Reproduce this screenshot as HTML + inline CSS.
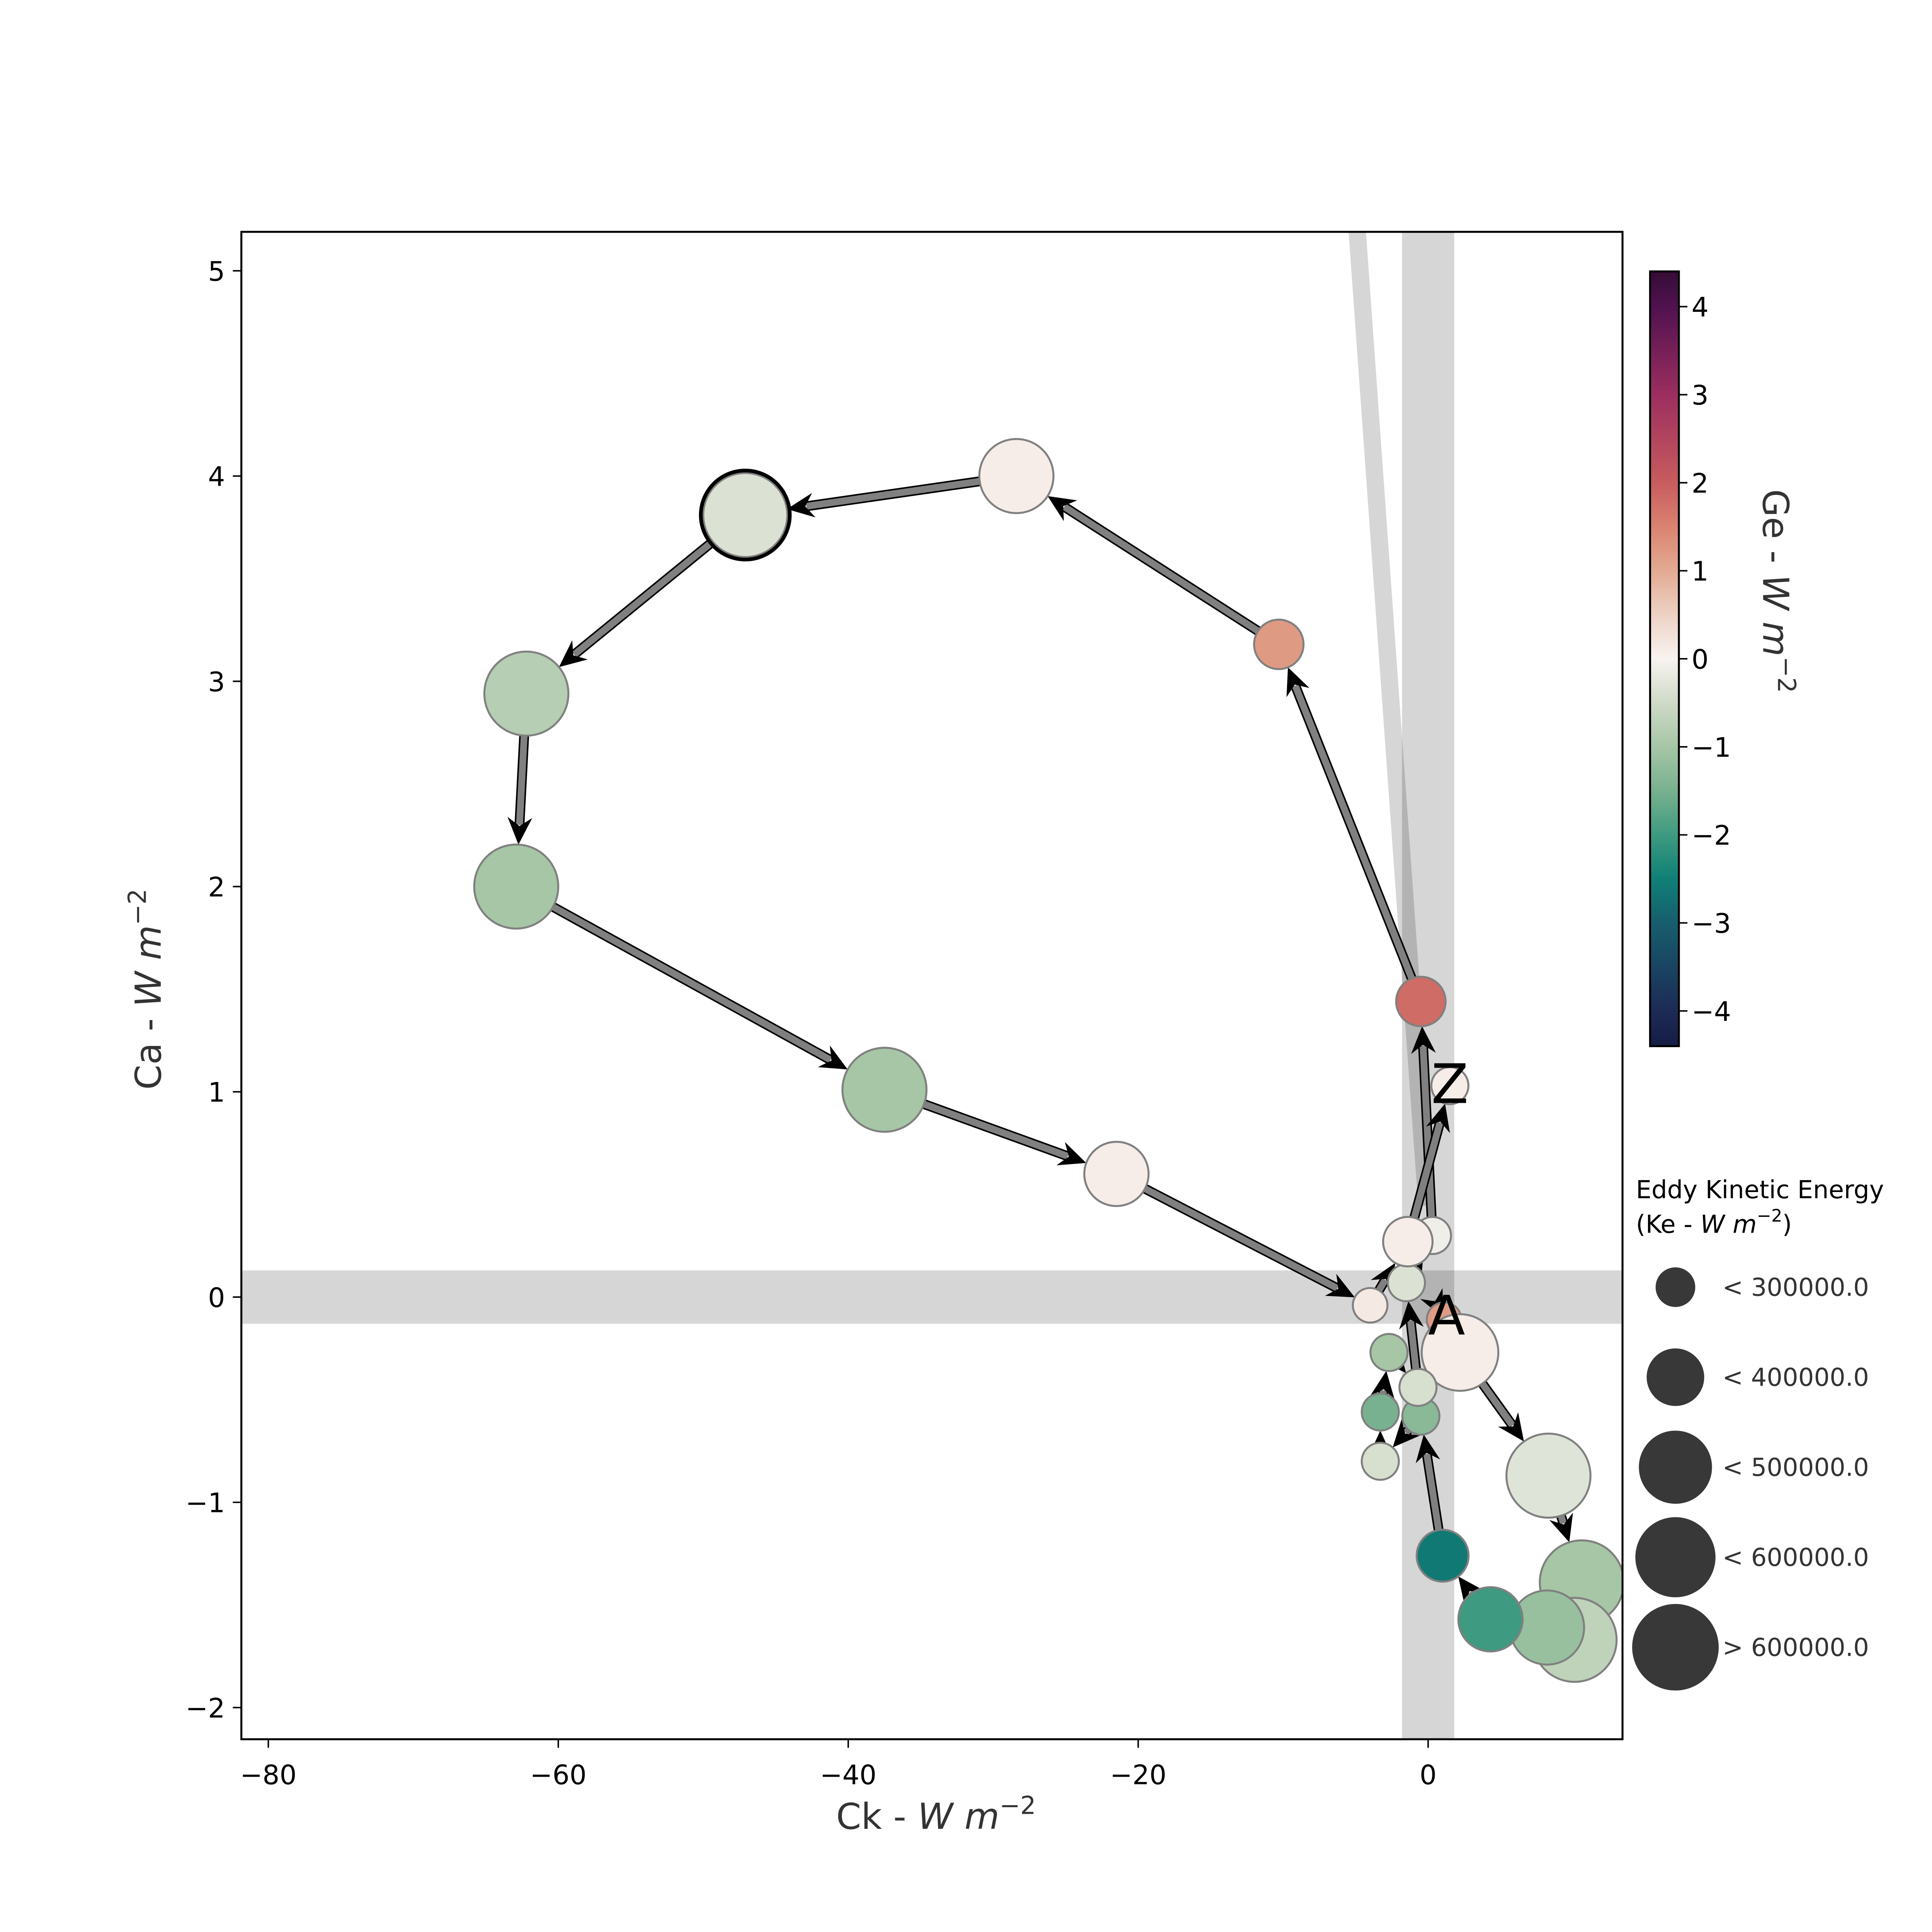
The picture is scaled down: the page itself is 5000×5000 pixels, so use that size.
<!DOCTYPE html>
<html><head><meta charset="utf-8">
<style>html,body{margin:0;padding:0;background:#fff}svg{display:block}</style>
</head><body>
<svg id="chart" xmlns="http://www.w3.org/2000/svg" width="5000" height="5000" viewBox="0 0 1562.5 1562.5" font-family="DejaVu Sans, Liberation Sans, sans-serif">
<defs>
<linearGradient id="cbgrad" x1="0" y1="1" x2="0" y2="0"></linearGradient>
<clipPath id="plotclip"><rect x="195.2" y="187.5" width="1117" height="1219.1"/></clipPath>
</defs>
<rect width="1562.5" height="1562.5" fill="#fff"/>
<g id="bands" clip-path="url(#plotclip)"></g>
<g id="arrows" clip-path="url(#plotclip)"></g>
<g id="points" clip-path="url(#plotclip)"></g>
<g id="labels"></g>
<rect x="195.2" y="187.5" width="1117" height="1219.1" fill="none" stroke="#000" stroke-width="1.6"/>
<g id="xaxis"></g>
<g id="yaxis"></g>
<text x="757" y="1479" font-size="29" fill="#333" text-anchor="middle">Ck - <tspan font-style="italic">W m</tspan><tspan font-size="20" dy="-12">−2</tspan></text>
<text transform="translate(130,800) rotate(-90)" font-size="29" fill="#333" text-anchor="middle">Ca - <tspan font-style="italic">W m</tspan><tspan font-size="20" dy="-12">−2</tspan></text>
<g id="colorbar"></g>
<text transform="translate(1426,478) rotate(90)" font-size="29" fill="#333" text-anchor="middle">Ge - <tspan font-style="italic">W m</tspan><tspan font-size="20" dy="-12">−2</tspan></text>
<g id="legend">
<text x="1323" y="969" font-size="20" fill="#000">Eddy Kinetic Energy</text>
<text x="1323" y="997" font-size="20" fill="#000">(Ke - <tspan font-style="italic">W m</tspan><tspan font-size="14" dy="-9">−2</tspan><tspan dy="9">)</tspan></text>
</g>
</svg>
<script>
// ---- data ----
const ckValues = [1.1, 2.2, 8.3, 10.6, 10.1, 8.2, 4.3, 1.0, -0.5, -3.3, -3.3, -2.7, -0.7, -1.5, 0.3, -0.5, -10.3, -28.4, -47.1, -62.2, -62.9, -37.5, -21.5, -4.0, -1.4, 1.5];
const caValues = [-0.11, -0.27, -0.87, -1.39, -1.67, -1.61, -1.57, -1.26, -0.58, -0.8, -0.56, -0.27, -0.44, 0.07, 0.30, 1.44, 3.18, 4.0, 3.81, 2.94, 2.0, 1.01, 0.6, -0.04, 0.27, 1.03];
const geValues = [1.2, 0.1, -0.3, -1.0, -0.7, -1.15, -2.0, -2.6, -1.3, -0.4, -1.5, -1.0, -0.4, -0.35, -0.1, 1.8, 1.2, 0.1, -0.35, -0.8, -1.0, -1.0, 0.1, 0.15, 0.1, 0.1];
const keValues = [112000, 549000, 660000, 660000, 660000, 514000, 386000, 252000, 128600, 128600, 128600, 128600, 128600, 128600, 128600, 228600, 228600, 514000, 660000, 660000, 660000, 660000, 386000, 112000, 228600, 128600];
const highlightIndex = 18;
const xTicks = [-80, -60, -40, -20, 0];
const yTicks = [-2, -1, 0, 1, 2, 3, 4, 5];
const cbTicks = [-4, -3, -2, -1, 0, 1, 2, 3, 4];
const legendKe = [300000, 400000, 500000, 600000, 700000];
const legendLabels = ['< 300000.0', '< 400000.0', '< 500000.0', '< 600000.0', '> 600000.0'];
const cmapVals = [-4.4, -4, -3, -2.5, -2, -1.5, -1, -0.5, 0, 0.5, 1, 1.5, 2, 3, 4, 4.4];
const cmapCols = ['#151d44', '#1c2b55', '#175e6d', '#0f8076', '#3e9a80', '#78b18f', '#a6c6a6', '#cfdac7', '#f8f3f1', '#edd2c4', '#e3aa92', '#d98370', '#c85c5e', '#9b2e5f', '#50124f', '#340d35'];

// ---- scales ----
const X0 = 1155, XS = 11.725, Y0 = 1049, YS = 166;
const sx = v => X0 + v * XS;
const sy = v => Y0 - v * YS;
const CB0 = 532.8, CBS = 71.2;
const scb = v => CB0 - v * CBS;
const rOf = ke => 35 * Math.sqrt(ke / 700000);
const NS = 'http://www.w3.org/2000/svg';
function mk(tag, attrs, parent) { const e = document.createElementNS(NS, tag); for (const k in attrs) e.setAttribute(k, attrs[k]); parent.appendChild(e); return e; }
function hex(h) { return [1, 3, 5].map(i => parseInt(h.substr(i, 2), 16)); }
function cmap(v) {
  v = Math.max(cmapVals[0], Math.min(cmapVals[cmapVals.length - 1], v));
  for (let i = 0; i < cmapVals.length - 1; i++) {
    if (v <= cmapVals[i + 1]) {
      const t = (v - cmapVals[i]) / (cmapVals[i + 1] - cmapVals[i]);
      const a = hex(cmapCols[i]), b = hex(cmapCols[i + 1]);
      return 'rgb(' + a.map((c, j) => Math.round(c + (b[j] - c) * t)).join(',') + ')';
    }
  }
  return cmapCols[cmapCols.length - 1];
}

// bands
const bands = document.getElementById('bands');
const hb = mk('rect', { x: 195, y: sy(0.13), width: 1120, height: sy(-0.13) - sy(0.13), fill: '#000', 'fill-opacity': 0.16 }, bands);


const vb = mk('rect', { x: sx(-1.8), y: 187, width: sx(1.8) - sx(-1.8), height: 1222, fill: '#000', 'fill-opacity': 0.16 }, bands);


const db = mk('line', { x1: 1095, y1: 150, x2: 1154, y2: 975, stroke: '#000', 'stroke-opacity': 0.16, 'stroke-width': 14 }, bands);



// arrows
const arrows = document.getElementById('arrows');
for (let i = 0; i < ckValues.length - 1; i++) {
  const x1 = sx(ckValues[i]), y1 = sy(caValues[i]), x2 = sx(ckValues[i + 1]), y2 = sy(caValues[i + 1]);
  const dx = x2 - x1, dy = y2 - y1, L = Math.hypot(dx, dy);
  if (L < 1) continue;
  const ux = dx / L, uy = dy / L, r2 = rOf(keValues[i + 1]);
  const tipx = x2 - ux * r2, tipy = y2 - uy * r2;
  const hl = 22, hw = 10;
  const bx = tipx - ux * hl, by = tipy - uy * hl;
  const g = mk('g', {}, arrows);
  
  
  mk('line', { x1: x1, y1: y1, x2: bx + ux * 6, y2: by + uy * 6, stroke: '#000', 'stroke-width': 8 }, g);
  mk('line', { x1: x1, y1: y1, x2: bx + ux * 6, y2: by + uy * 6, stroke: '#808080', 'stroke-width': 5.5 }, g);
  const nx = bx + ux * 7, ny = by + uy * 7;
  mk('polygon', { points: [tipx, tipy, bx - uy * hw, by + ux * hw, nx, ny, bx + uy * hw, by - ux * hw].join(' '), fill: '#000' }, g);
}

// points
const points = document.getElementById('points');
for (let i = 0; i < ckValues.length; i++) {
  const c = mk('circle', { cx: sx(ckValues[i]), cy: sy(caValues[i]), r: rOf(keValues[i]), fill: cmap(geValues[i]), stroke: '#808080', 'stroke-width': 1.6 }, points);
  
  
  if (i === highlightIndex) {
    const h = mk('circle', { cx: sx(ckValues[i]), cy: sy(caValues[i]), r: rOf(keValues[i]) + 2, fill: 'none', stroke: '#000', 'stroke-width': 3 }, points);
    
    
  }
}
const labels = document.getElementById('labels');
const la = mk('text', { x: sx(ckValues[0]) + 2, y: sy(caValues[0]) + 12, 'font-size': 44, 'text-anchor': 'middle', fill: '#000' }, labels);
la.textContent = 'A';


const last = ckValues.length - 1;
const lz = mk('text', { x: sx(ckValues[last]), y: sy(caValues[last]) + 14, 'font-size': 44, 'text-anchor': 'middle', fill: '#000' }, labels);
lz.textContent = 'Z';



// axes
const xa = document.getElementById('xaxis');
xTicks.forEach(t => {
  const g = mk('g', {}, xa);
  
  
  mk('line', { x1: sx(t), y1: 1406.6, x2: sx(t), y2: 1413.5, stroke: '#000', 'stroke-width': 1.2 }, g);
  const tx = mk('text', { x: sx(t), y: 1443, 'font-size': 21.7, 'text-anchor': 'middle', fill: '#000' }, g);
  tx.textContent = t < 0 ? '−' + Math.abs(t) : String(t);
});
const ya = document.getElementById('yaxis');
yTicks.forEach(t => {
  const g = mk('g', {}, ya);
  
  
  mk('line', { x1: 188.3, y1: sy(t), x2: 195.2, y2: sy(t), stroke: '#000', 'stroke-width': 1.2 }, g);
  const tx = mk('text', { x: 182, y: sy(t) + 8, 'font-size': 21.7, 'text-anchor': 'end', fill: '#000' }, g);
  tx.textContent = t < 0 ? '−' + Math.abs(t) : String(t);
});

// colorbar
const grad = document.getElementById('cbgrad');
cmapVals.forEach((v, i) => {
  mk('stop', { offset: ((v + 4.4) / 8.8).toFixed(4), 'stop-color': cmapCols[i] }, grad);
});
const cb = document.getElementById('colorbar');
const cbr = mk('rect', { x: 1334.5, y: scb(4.4), width: 23.3, height: scb(-4.4) - scb(4.4), fill: 'url(#cbgrad)', stroke: '#000', 'stroke-width': 1.6 }, cb);


cbTicks.forEach(t => {
  const g = mk('g', {}, cb);
  
  
  mk('line', { x1: 1357.8, y1: scb(t), x2: 1364.7, y2: scb(t), stroke: '#000', 'stroke-width': 1.2 }, g);
  const tx = mk('text', { x: 1368, y: scb(t) + 8, 'font-size': 21.7, fill: '#000' }, g);
  tx.textContent = t < 0 ? '−' + Math.abs(t) : String(t);
});

// legend
const lg = document.getElementById('legend');
legendKe.forEach((k, i) => {
  const y = 1041 + i * 72.8;
  const c = mk('circle', { cx: 1355, cy: y, r: rOf(k) * (i === 0 ? 0.7 : i === 1 ? 0.88 : 1), fill: '#383838' }, lg);
  
  
  const t = mk('text', { x: 1393, y: y + 7, 'font-size': 20, fill: '#333' }, lg);
  t.textContent = legendLabels[i];
  
  
});
</script>
</body></html>
